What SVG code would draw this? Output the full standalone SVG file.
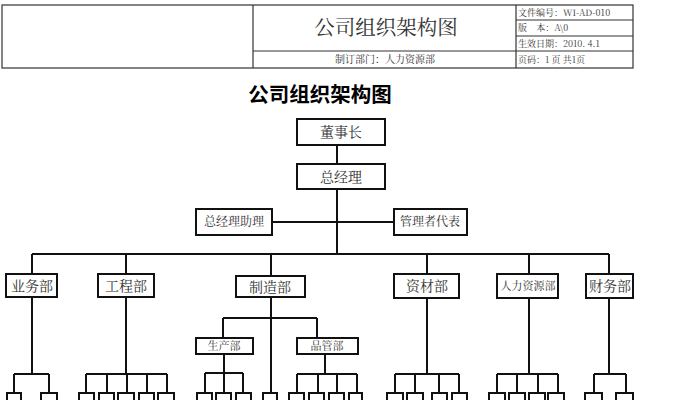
<svg xmlns="http://www.w3.org/2000/svg" width="681" height="400" viewBox="0 0 681 400">
<style>
.hd{fill:none;stroke:#333;stroke-width:1.2}
.bx{fill:#fff;stroke:#111;stroke-width:2}
.ln{fill:none;stroke:#111;stroke-width:2}
text{font-family:"Noto Serif CJK SC","Noto Sans CJK SC",serif;fill:#333}
.t14{font-size:14px;text-anchor:middle}
.t12{font-size:12px;text-anchor:middle}
.t11{font-size:11px;text-anchor:middle}
.hs{font-size:9px;fill:#333}
</style>
<rect width="681" height="400" fill="#fff"/>
<g id="header">
<rect class="hd" x="2" y="5" width="631" height="63"/>
<line class="hd" x1="253" y1="5" x2="253" y2="68"/>
<line class="hd" x1="516" y1="5" x2="516" y2="68"/>
<line class="hd" x1="253" y1="51" x2="633" y2="51"/>
<line class="hd" x1="516" y1="20" x2="633" y2="20"/>
<line class="hd" x1="516" y1="36" x2="633" y2="36"/>
<text x="386" y="35" style="font-size:20.5px;text-anchor:middle">公司组织架构图</text>
<text x="385" y="63" class="t11" style="font-size:10px">制订部门：人力资源部</text>
<text x="518" y="16" class="hs">文件编号：WI-AD-010</text>
<text x="518" y="31" class="hs" xml:space="preserve">版    本：A\0</text>
<text x="518" y="47" class="hs">生效日期：2010. 4.1</text>
<text x="518" y="63" class="hs">页码：1 页 共1页</text>
</g>
<text x="320" y="102" style="font-family:'Noto Sans CJK SC',sans-serif;font-size:20.5px;font-weight:bold;text-anchor:middle;fill:#000">公司组织架构图</text>
<g id="connectors">
<path class="ln" d="M337 145V164M337 189V254M272 222H394M32 254H609"/>
<path class="ln" d="M32 254V274M126 254V274M271 254V276M427 254V274M529 254V274M609 254V274"/>
<path class="ln" d="M32 297V374M14 374H49M14 374V393M49 374V393"/>
<path class="ln" d="M126 297V374M86 374H167M86 374V393M107 374V393M127 374V393M147 374V393M167 374V393"/>
<path class="ln" d="M271 297V393M223 318H317M223 318V338M317 318V338"/>
<path class="ln" d="M224 354V373M205 373H243M205 373V393M224 373V393M243 373V393"/>
<path class="ln" d="M325 354V374M297 374H357M297 374V393M318 374V393M337 374V393M357 374V393"/>
<path class="ln" d="M427 298V374M395 374H459M395 374V393M415 374V393M439 374V393M459 374V393"/>
<path class="ln" d="M529 298V374M497 374H558M497 374V393M517 374V393M538 374V393M558 374V393"/>
<path class="ln" d="M609 298V374M594 374H626M594 374V393M626 374V393"/>
</g>
<g id="n-dsz"><rect class="bx" x="297" y="119" width="88" height="26"/><text x="341" y="137" class="t14">董事长</text></g>
<g id="n-zjl"><rect class="bx" x="297" y="164" width="88" height="25"/><text x="341" y="182" class="t14">总经理</text></g>
<g id="n-zjlzl"><rect class="bx" x="196" y="209" width="76" height="26"/><text x="234" y="226" class="t12">总经理助理</text></g>
<g id="n-glzdb"><rect class="bx" x="394" y="209" width="73" height="26"/><text x="430" y="226" class="t12">管理者代表</text></g>
<g id="n-ywb"><rect class="bx" x="6" y="274" width="51" height="23"/><text x="32" y="291" class="t14">业务部</text></g>
<g id="n-gcb"><rect class="bx" x="98" y="274" width="56" height="23"/><text x="126" y="291" class="t14">工程部</text></g>
<g id="n-zzb"><rect class="bx" x="236" y="276" width="69" height="21"/><text x="270" y="292" class="t14">制造部</text></g>
<g id="n-zcb"><rect class="bx" x="394" y="274" width="65" height="24"/><text x="427" y="291" class="t14">资材部</text></g>
<g id="n-rlzyb"><rect class="bx" x="497" y="274" width="61" height="24"/><text x="528" y="290" class="t11">人力资源部</text></g>
<g id="n-cwb"><rect class="bx" x="586" y="274" width="47" height="24"/><text x="610" y="291" class="t14">财务部</text></g>
<g id="n-scb"><rect class="bx" x="196" y="338" width="57" height="16"/><text x="224" y="350" class="t11">生产部</text></g>
<g id="n-pgb"><rect class="bx" x="297" y="338" width="61" height="16"/><text x="327" y="350" class="t11">品管部</text></g>
<g id="leaves">
<rect class="bx" x="7" y="393" width="14" height="20"/><rect class="bx" x="41" y="393" width="16" height="20"/>
<rect class="bx" x="79" y="393" width="15" height="20"/><rect class="bx" x="99" y="393" width="15" height="20"/><rect class="bx" x="118" y="393" width="16" height="20"/><rect class="bx" x="139" y="393" width="15" height="20"/><rect class="bx" x="158" y="393" width="16" height="20"/>
<rect class="bx" x="197" y="393" width="15" height="20"/><rect class="bx" x="216" y="393" width="15" height="20"/><rect class="bx" x="236" y="393" width="15" height="20"/>
<rect class="bx" x="263" y="393" width="14" height="20"/>
<rect class="bx" x="289" y="393" width="15" height="20"/><rect class="bx" x="309" y="393" width="15" height="20"/><rect class="bx" x="329" y="393" width="15" height="20"/><rect class="bx" x="349" y="393" width="13" height="20"/>
<rect class="bx" x="387" y="393" width="16" height="20"/><rect class="bx" x="407" y="393" width="16" height="20"/><rect class="bx" x="432" y="393" width="15" height="20"/><rect class="bx" x="452" y="393" width="15" height="20"/>
<rect class="bx" x="489" y="393" width="16" height="20"/><rect class="bx" x="509" y="393" width="16" height="20"/><rect class="bx" x="529" y="393" width="16" height="20"/><rect class="bx" x="548" y="393" width="16" height="20"/>
<rect class="bx" x="585" y="393" width="17" height="20"/><rect class="bx" x="616" y="393" width="17" height="20"/>
</g>
</svg>
